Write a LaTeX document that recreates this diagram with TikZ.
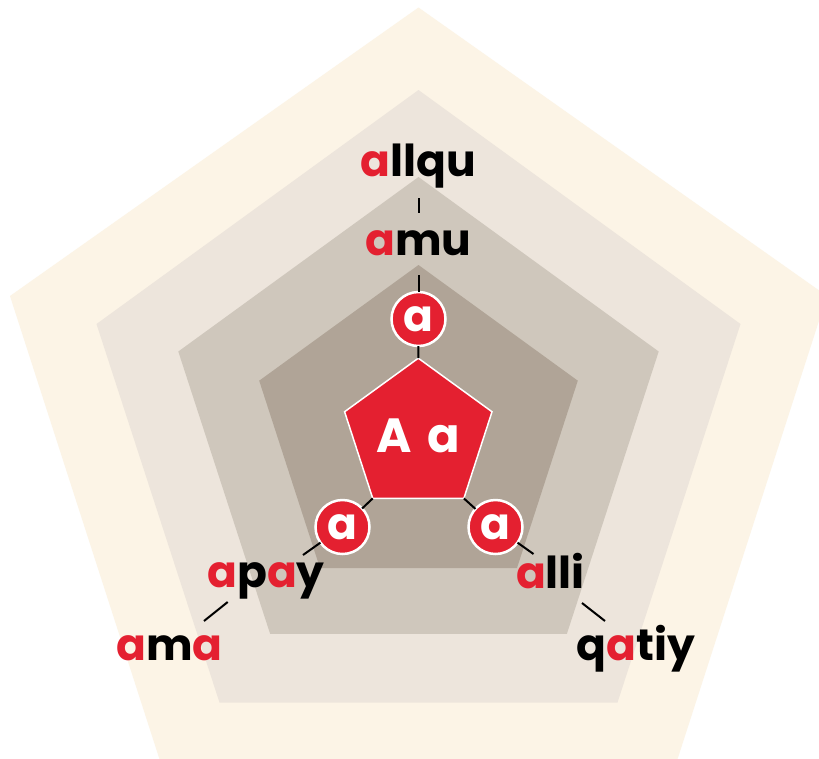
\documentclass[tikz,border=0pt]{standalone}
\usepackage{fontspec}
\setmainfont{Poppins}
\usetikzlibrary{shapes.geometric}
\definecolor{cream}{HTML}{FCF4E6}
\definecolor{layerb}{HTML}{EDE5DC}
\definecolor{layerc}{HTML}{CFC7BC}
\definecolor{layerd}{HTML}{B0A497}
\definecolor{tred}{HTML}{E42030}
\newcommand\R[1]{\textcolor{tred}{#1}}
\tikzset{
  lbl/.style={inner sep=0pt, anchor=base, text=black,
    font=\fontsize{44}{50}\selectfont\bfseries},
  bubble/.style={circle, fill=tred, draw=white, line width=2.5pt,
    minimum size=54pt, inner sep=0pt, outer sep=0pt, text=white,
    font=\fontsize{44}{50}\selectfont\bfseries},
  core/.style={regular polygon, regular polygon sides=5, fill=tred,
    draw=white, line width=1.5pt, minimum size=155pt, inner sep=0pt,
    outer sep=0pt, text=white,
    font=\fontsize{48}{52}\selectfont\bfseries},
  link/.style={black, line width=2pt}
}
\begin{document}
\begin{tikzpicture}[x=1pt, y=-1pt]
\useasboundingbox (0,0) rectangle (819,758);
\clip (0,0) rectangle (819,758);
\fill[white] (0,0) rectangle (819,758);
% layers
\fill[cream] (418.5,7.5) -- (827,296) -- (674,770) -- (163,770) -- (10,296) -- cycle;
\fill[layerb] (418.5,90) -- (740.5,324) -- (617.5,702.5) -- (219.5,702.5) -- (96.5,324) -- cycle;
\fill[layerc] (418.5,177) -- (658.7,351.5) -- (566.9,633.8) -- (270.1,633.8) -- (178.3,351.5) -- cycle;
\fill[layerd] (418.5,265) -- (577.8,380.7) -- (517,568) -- (320,568) -- (259.2,380.7) -- cycle;
% central pentagon and bubbles
\node[core] (P) at (418.3,435.7) {A\hspace{0.32em}a};
\node[bubble] (c1) at (418.5,319) {a};
\node[bubble] (c2) at (342.5,527) {a};
\node[bubble] (c3) at (495.5,527) {a};
% labels
\node[lbl] (allqu) at (418.5,176) {\R{a}llqu};
\node[lbl] (amu) at (418.5,255) {\R{a}mu};
\node[lbl] (apay) at (266,587) {\R{a}p\R{a}y};
\node[lbl] (ama) at (169.5,660) {\R{a}m\R{a}};
\node[lbl] (alli) at (550.5,588) {\R{a}lli};
\node[lbl] (qatiy) at (636,660) {q\R{a}tiy};
% connector end points
\coordinate (t1) at (418.5,198);
\coordinate (t2) at (418.5,213);
\coordinate (t3) at (418.5,275);
\coordinate (bl1) at (303,555);
\coordinate (bl2) at (227.7,602);
\coordinate (bl3) at (204,621);
\coordinate (br1) at (533.5,554);
\coordinate (br2) at (582,603);
\coordinate (br3) at (605,621);
% connectors
\draw[link] (t1) -- (t2);
\draw[link] (t3) -- (c1);
\draw[link] (c1) -- (P.corner 1);
\draw[link] (P.corner 3) -- (c2);
\draw[link] (c2) -- (bl1);
\draw[link] (bl2) -- (bl3);
\draw[link] (P.corner 4) -- (c3);
\draw[link] (c3) -- (br1);
\draw[link] (br2) -- (br3);
\end{tikzpicture}
\end{document}
